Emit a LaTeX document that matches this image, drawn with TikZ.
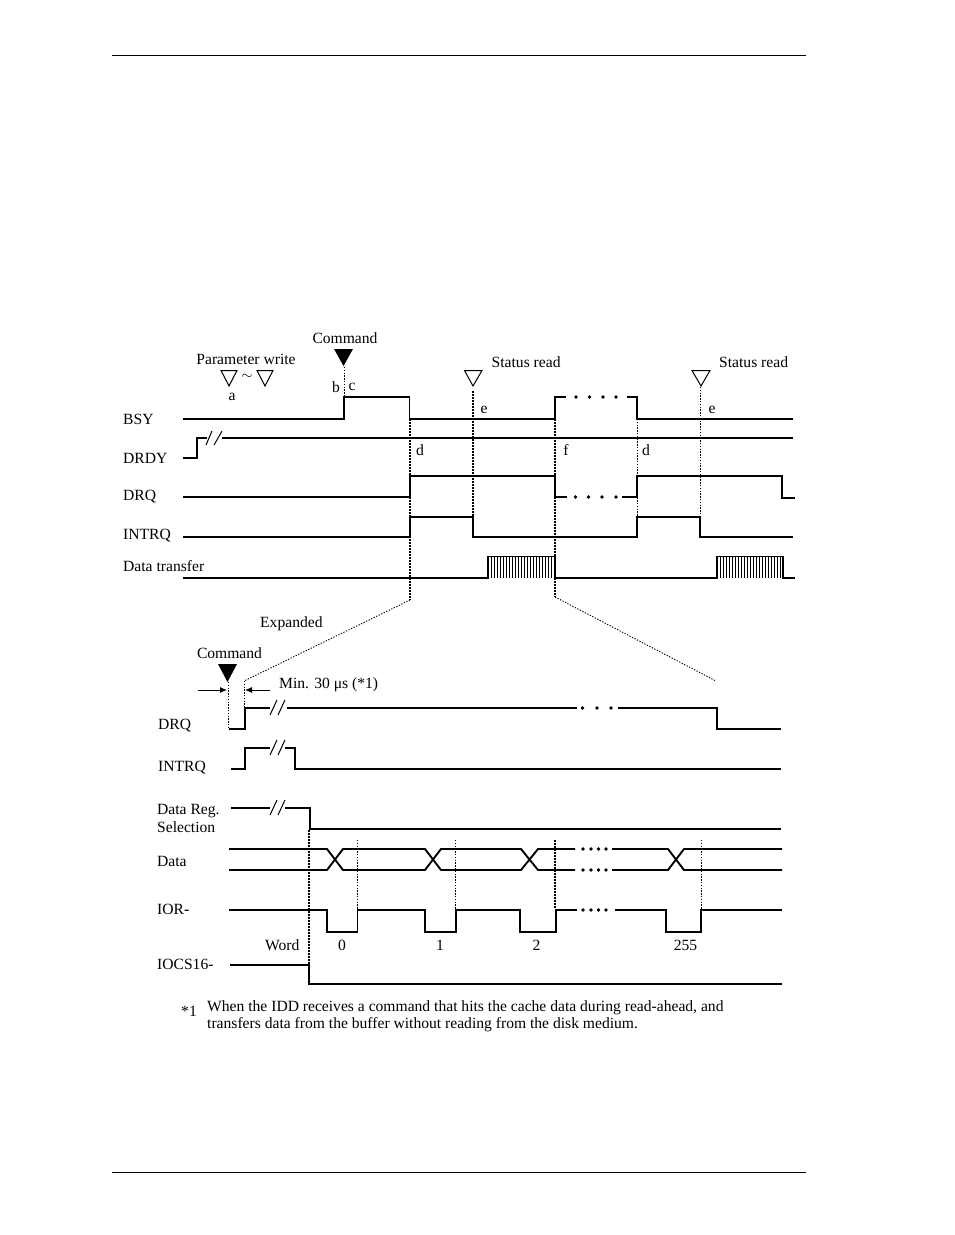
\documentclass[tikz,border=0pt]{standalone}
\usepackage{fontspec}
\usetikzlibrary{arrows.meta}
\setmainfont{Liberation Serif}
\begin{document}
\begin{tikzpicture}[x=1pt,y=-1pt,
  sig/.style={line width=1.9pt,line cap=butt,line join=miter},
  rulex/.style={line width=0.9pt},
  slash/.style={line width=1pt},
  dotA/.style={line width=1.5pt,dash pattern=on 1.5pt off 1.5pt},
  dotB/.style={line width=0.9pt,dash pattern=on 1.3pt off 1.5pt},
  mark tri/.style={draw,line width=1pt,line join=miter},
  lab/.style={anchor=west,inner sep=0pt,font=\fontsize{15.6}{18}\selectfont},
  labc/.style={anchor=center,inner sep=0pt,font=\fontsize{15.6}{18}\selectfont},
  tiny dot/.style={circle,fill=black,inner sep=0pt,minimum size=4pt}]
\useasboundingbox (0,0) rectangle (954,1235);
\draw[rulex] (112,55.5) -- (806,55.5);
\draw[rulex] (112,1172) -- (806,1172);

% upper dotted guides
\draw[dotB] (344,367) -- (344,397);
\draw[dotA] (410,419) -- (410,600);
\draw[dotB] (410,600) -- (244,681);
\draw[dotA] (473,391) -- (473,516);
\draw[dotA] (555,419) -- (555,597);
\draw[dotB] (555,597) -- (716,681);
\draw[dotB] (637,419) -- (637,517);
\draw[dotB] (700.5,387) -- (700.5,517);

% markers
\fill (334,349) -- (353,349) -- (343.5,366) -- cycle;
\draw[mark tri] (221,370.5) -- (237,370.5) -- (229,386) -- cycle;
\draw[mark tri] (257,370.5) -- (273,370.5) -- (265,386) -- cycle;
\draw[mark tri] (464.5,370.5) -- (482,370.5) -- (473,386) -- cycle;
\draw[mark tri] (692,370.5) -- (710,370.5) -- (701,386) -- cycle;

% upper signals
\draw[sig] (183,419) -- (344,419) -- (344,397) -- (409.5,397) -- (409.5,419) -- (555,419) -- (555,397) -- (566,397);
\draw[sig] (627,397) -- (637,397) -- (637,419) -- (793,419);
\foreach \x in {576,589.5,603,616} \fill (\x,397) circle (1.9);
\draw[sig] (183,458) -- (197,458) -- (197,438) -- (207,438);
\draw[sig] (222,438) -- (793,438);
\draw[slash] (206,445) -- (212,431);
\draw[slash] (214,445) -- (222,431);
\draw[sig] (183,497) -- (410,497) -- (410,476) -- (555,476) -- (555,497) -- (567,497);
\draw[sig] (622,497) -- (637,497) -- (637,476) -- (782,476) -- (782,498) -- (795,498);
\foreach \x in {575.5,588.5,602,616} \fill (\x,497) circle (1.9);
\draw[sig] (183,537) -- (410,537) -- (410,517) -- (473,517) -- (473,537) -- (637,537) -- (637,517) -- (700,517) -- (700,537) -- (793,537);
\draw[sig] (183,578) -- (488,578) -- (488,556.5) -- (555,556.5) -- (555,578) -- (717,578) -- (717,556.5) -- (783,556.5) -- (783,578) -- (795,578);
\foreach \x in {491,494,...,553} \draw[line width=1pt] (\x,557) -- (\x,578);
\foreach \x in {720,723,...,782} \draw[line width=1pt] (\x,557) -- (\x,578);

% upper labels
\node[lab] (tBSY) at (123,419) {BSY};
\node[lab] (tDRDY) at (123,458) {DRDY};
\node[lab] (tDRQ) at (123,497) {DRQ};
\node[lab] (tINTRQ) at (123,536) {INTRQ};
\node[lab] (tXfer) at (123,566.5) {Data transfer};
\node[labc] (tParam) at (246,359) {Parameter write};
\node[labc] (tTilde) at (247,377) {$\sim$};
\node[labc] (tA) at (232,396.5) {a};
\node[labc] (tB) at (336,387) {b};
\node[labc] (tC) at (352,387) {c};
\node[labc] (tCmd) at (345,338.5) {Command};
\node[lab] (tSt1) at (491.5,362.5) {Status read};
\node[lab] (tSt2) at (719,362.5) {Status read};
\node[labc] (tE1) at (484,409.5) {e};
\node[labc] (tE2) at (712,409.5) {e};
\node[labc] (tD1) at (420,450) {d};
\node[labc] (tF) at (566,450) {f};
\node[labc] (tD2) at (646,450) {d};

% lower header
\node[lab] (tExp) at (260,624) {Expanded};
\node[labc] (tCmd2) at (229.5,653.5) {Command};
\fill (218,664) -- (237,664) -- (227.5,682) -- cycle;
\draw[dotB] (228,682) -- (228,727);
\draw[dotB] (244,681) -- (244,708);
\draw[-{Latex[length=7pt,width=6pt]},line width=0.9pt] (198,690) -- (227,690);
\draw[-{Latex[length=7pt,width=6pt]},line width=0.9pt] (270,690) -- (245,690);
\node[lab] (tMin) at (279,685) {Min. 30 μs (*1)};

% lower signals
\node[lab] (tDRQ2) at (158,726) {DRQ};
\draw[sig] (229,729) -- (245,729) -- (245,708) -- (270,708);
\draw[sig] (287,708) -- (577,708);
\foreach \x in {582.5,597,611} \fill (\x,708) circle (1.9);
\draw[sig] (618,708) -- (717,708) -- (717,729) -- (781,729);
\draw[slash] (270,715) -- (277,700);
\draw[slash] (278,715) -- (285,700);

\node[lab] (tINTRQ2) at (158,768) {INTRQ};
\draw[sig] (231,769) -- (245,769) -- (245,748) -- (270,748);
\draw[sig] (285,748) -- (295,748) -- (295,769) -- (781,769);
\draw[slash] (270,755) -- (277,740);
\draw[slash] (278,755) -- (285,740);

\node[lab] (tDR) at (157,811) {Data Reg.};
\node[lab] (tSel) at (157,827) {Selection};
\draw[sig] (231,808) -- (270,808);
\draw[sig] (285,808) -- (310,808) -- (310,829) -- (781,829);
\draw[slash] (270,815) -- (277,800);
\draw[slash] (278,815) -- (285,800);

\draw[dotA] (309,830) -- (309,964);
\draw[dotB] (357,840) -- (357,909);
\draw[dotB] (455.5,840) -- (455.5,909);
\draw[dotA] (555,840) -- (555,909);
\draw[dotB] (701,840) -- (701,909);

\node[lab] (tData) at (157,861.5) {Data};
\draw[sig] (229,849) -- (327,849) -- (343,870) -- (425,870) -- (441,849) -- (521,849) -- (538,870) -- (575,870);
\draw[sig] (229,870) -- (327,870) -- (343,849) -- (425,849) -- (441,870) -- (521,870) -- (538,849) -- (575,849);
\draw[sig] (612,849) -- (668,849) -- (684,870) -- (782,870);
\draw[sig] (612,870) -- (668,870) -- (684,849) -- (782,849);
\foreach \x in {583,591,598.5,606} {\fill (\x,849) circle (1.9); \fill (\x,870) circle (1.9);}

\node[lab] (tIOR) at (157,909.5) {IOR{\bfseries -}};
\draw[sig] (229,910) -- (327,910) -- (327,932) -- (357.5,932) -- (357.5,910) -- (425,910) -- (425,932) -- (456,932) -- (456,910) -- (520,910) -- (520,932) -- (556,932) -- (556,910) -- (577,910);
\draw[sig] (615,910) -- (666,910) -- (666,932) -- (701,932) -- (701,910) -- (782,910);
\foreach \x in {583,591,598.5,606} \fill (\x,910) circle (1.9);

\node[lab] (tWord) at (265,945) {Word};
\node[labc] (t0) at (342,945.5) {0};
\node[labc] (t1) at (440,945.5) {1};
\node[labc] (t2) at (536.5,945.5) {2};
\node[labc] (t255) at (685.5,945.5) {255};

\node[lab] (tIOCS) at (157,964.5) {IOCS16-};
\draw[sig] (230,965) -- (309,965) -- (309,984) -- (782,984);

% footnote
\node[lab] (tStar) at (181,1011) {*1};
\node[lab] (tNote1) at (207,1008) {When the IDD receives a command that hits the cache data during read-ahead, and};
\node[lab] (tNote2) at (207,1025) {transfers data from the buffer without reading from the disk medium.};
\end{tikzpicture}
\end{document}
